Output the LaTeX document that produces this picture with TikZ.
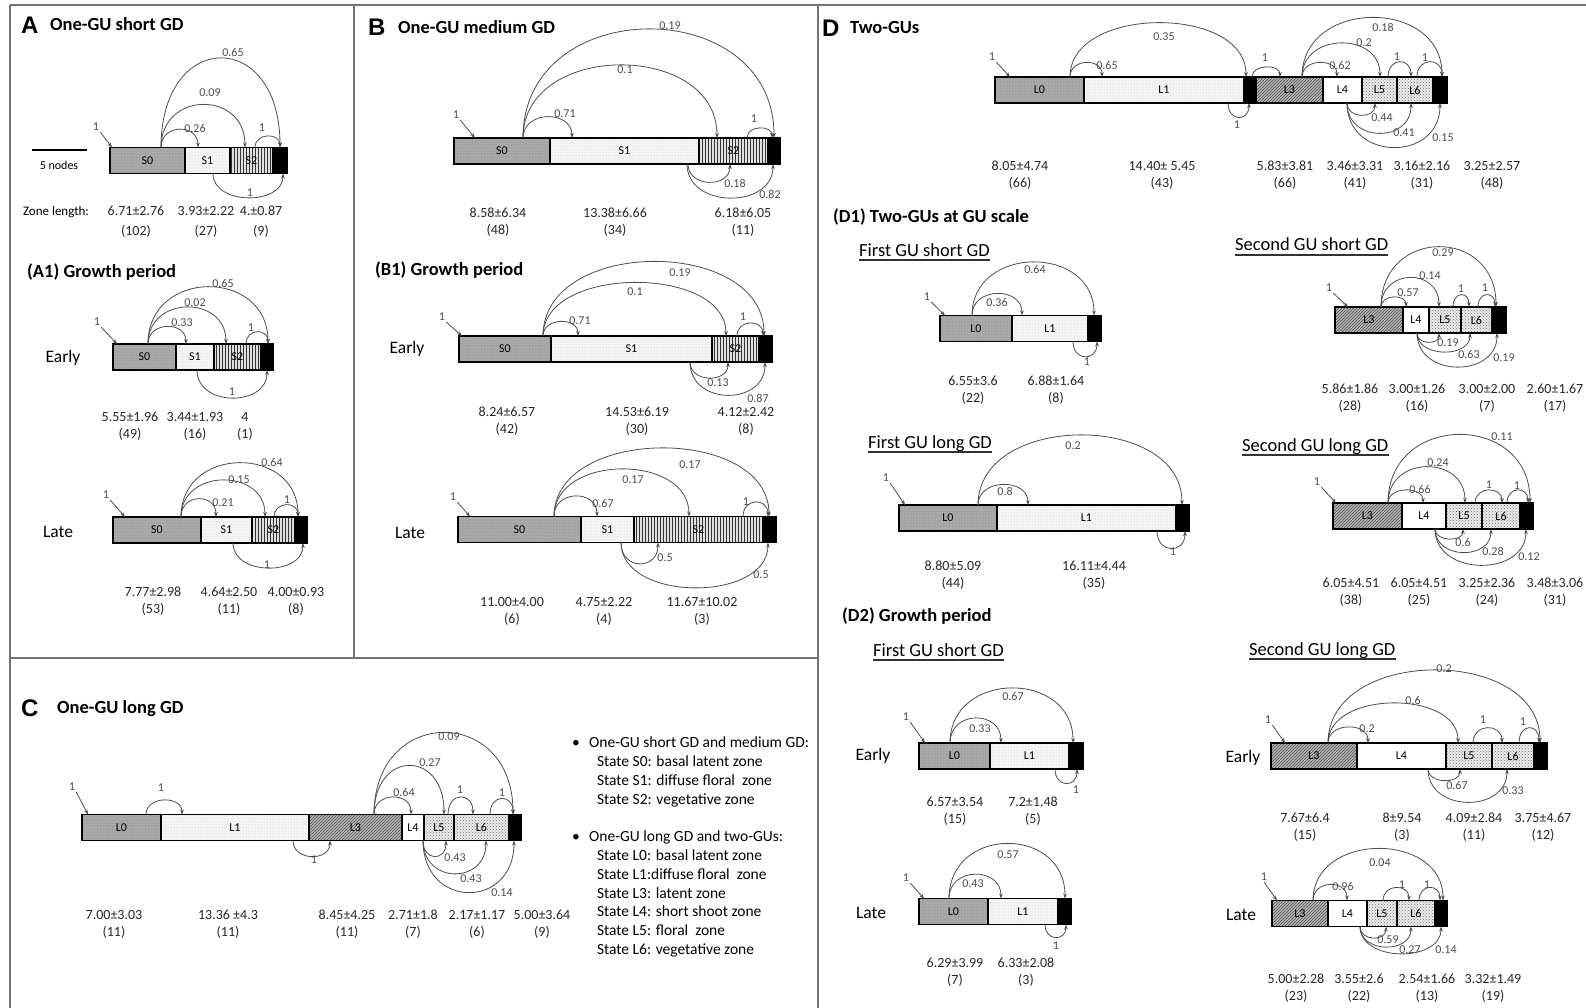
\documentclass[tikz,border=0pt]{standalone}
\usepackage{fontspec}
\setmainfont{Carlito}
\newfontfamily\headfont{Liberation Sans}
\usetikzlibrary{arrows.meta,positioning,patterns}
\newcommand\fs[2]{\fontsize{#1}{#2}\selectfont}

\begin{document}
\begin{tikzpicture}[
  x=1pt, y=-1pt,
  zone/.style={draw=black,line width=1.8pt,minimum height=26pt,inner sep=0pt,outer sep=0pt,font=\fs{12}{14}},
  bas/.style={zone,preaction={fill=black!36},pattern=dots,pattern color=black!16},
  dif/.style={zone,preaction={fill=black!4},pattern=dots,pattern color=black!22},
  veg/.style={zone,preaction={fill=black!12},pattern=vertical lines,pattern color=black!80},
  lat/.style={zone,preaction={fill=black!28},pattern=north east lines,pattern color=black!70},
  sho/.style={zone,fill=white},
  flo/.style={zone,preaction={fill=black!8},pattern=crosshatch dots,pattern color=black!55},
  endz/.style={zone,fill=black},
  hop/.style={draw=black!70,line width=0.8pt,-{Stealth[length=5pt,width=3.6pt]}},
  prob/.style={font=\fs{12}{14},text=black!70,inner sep=1pt},
  val/.style={font=\fs{14}{17},align=center,inner sep=0pt,text=black!85},
  letter/.style={font=\headfont\bfseries\fs{24}{28},inner sep=0pt,anchor=west},
  title/.style={font=\bfseries\fs{18.5}{22},inner sep=0pt,anchor=west},
  sub/.style={font=\fs{18.5}{22},inner sep=0pt,anchor=base west},
  period/.style={font=\fs{17.5}{21},inner sep=0pt},
  legend/.style={font=\fs{15.5}{18.7},align=left,inner sep=0pt},
  frame/.style={draw=black!55,line width=1.2pt},
  uline/.style={draw=black!80,line width=1.2pt}]
\useasboundingbox (0,0) rectangle (1586,1008);

% panel frames
\draw[frame] (10,5) -- (1586,5);
\draw[frame] (10,5) -- (10,1008);
\draw[frame] (354,5) -- (354,658);
\draw[frame] (10,658) -- (818,658);
\draw[frame] (818,5) -- (818,1008);

% ---------------- A: one-GU short GD
\node[letter] (A) at (21,25) {A};
\node[title] (A-t) at (50,24) {One-GU short GD};
\node[font=\fs{12}{14},inner sep=0pt] (a-sc) at (59,165) {5 nodes};
\draw[line width=1.5pt] (32,150) -- (87,150);
\node[bas,minimum width=75pt,anchor=west] (a0) at (110,160.5) {S0};
\node[dif,minimum width=45pt,right=0pt of a0] (a1) {S1};
\node[veg,minimum width=43pt,right=0pt of a1] (a2) {S2};
\node[endz,minimum width=14pt,right=0pt of a2] (aT) {};
\node[prob] (a-in) at (96,127) {1};
\draw[hop] (a-in.south east) -- ([xshift=2pt]a0.north west);
\draw[hop] ([xshift=51pt]a0.north west) .. controls +(0,-24) and +(0,-24) .. ([xshift=13pt]a1.north west);
\draw[hop] ([xshift=51pt]a0.north west) .. controls +(0,-57) and +(0,-57) .. ([xshift=15pt]a2.north west);
\draw[hop] ([xshift=51pt]a0.north west) .. controls +(0,-119) and +(0,-119) .. ([xshift=7pt]aT.north west);
\draw[hop] ([xshift=25pt]a2.north west) .. controls +(0,-15) and +(0,-15) .. ([xshift=7pt]aT.north west);
\draw[hop] ([xshift=28pt]a1.south west) .. controls +(0,32) and +(0,32) .. ([xshift=10pt]aT.south west);
\node[prob] (a-p1) at (195,128) {0.26};
\node[prob] (a-p2) at (210,93) {0.09};
\node[prob] (a-p3) at (233,52) {0.65};
\node[prob] (a-p4) at (262,128) {1};
\node[prob] (a-p5) at (250,193) {1};
\node[font=\fs{13}{15},inner sep=0pt] (a-zl) at (56,212) {Zone length:};
\node[val,font=\fs{14}{20}] (a-v0) at (136,222) {6.71±2.76\\(102)};
\node[val,font=\fs{14}{20}] (a-v1) at (206,222) {3.93±2.22\\(27)};
\node[val,font=\fs{14}{20}] (a-v2) at (261,222) {4.±0.87\\(9)};

% A1 growth period
\node[title] (A1-t) at (27,272) {(A1) Growth period};
\node[period] (ae-l) at (63,358) {Early};
\node[bas,minimum width=63pt,anchor=west] (ae0) at (113,357) {S0};
\node[dif,minimum width=38pt,right=0pt of ae0] (ae1) {S1};
\node[veg,minimum width=47pt,right=0pt of ae1] (ae2) {S2};
\node[endz,minimum width=12pt,right=0pt of ae2] (aeT) {};
\node[prob] (ae-in) at (97,322) {1};
\draw[hop] (ae-in.south east) -- ([xshift=4pt]ae0.north west);
\draw[hop] ([xshift=35pt]ae0.north west) .. controls +(0,-23) and +(0,-23) .. ([xshift=10pt]ae1.north west);
\draw[hop] ([xshift=35pt]ae0.north west) .. controls +(0,-49) and +(0,-49) .. ([xshift=12pt]ae2.north west);
\draw[hop] ([xshift=35pt]ae0.north west) .. controls +(0,-76) and +(0,-76) .. ([xshift=7pt]aeT.north west);
\draw[hop] ([xshift=32pt]ae2.north west) .. controls +(0,-16) and +(0,-16) .. ([xshift=7pt]aeT.north west);
\draw[hop] ([xshift=21pt]ae1.south west) .. controls +(0,37) and +(0,37) .. ([xshift=6pt]aeT.south west);
\node[prob] (ae-p1) at (182,323) {0.33};
\node[prob] (ae-p2) at (195,303) {0.02};
\node[prob] (ae-p3) at (223,283) {0.65};
\node[prob] (ae-p4) at (251,328) {1};
\node[prob] (ae-p5) at (232,392) {1};
\node[val] (ae-v0) at (130,426) {5.55±1.96\\(49)};
\node[val] (ae-v1) at (195,426) {3.44±1.93\\(16)};
\node[val] (ae-v2) at (245,426) {4\\(1)};

\node[period] (al-l) at (58,532) {Late};
\node[bas,minimum width=88pt,anchor=west] (al0) at (113,530) {S0};
\node[dif,minimum width=51pt,right=0pt of al0] (al1) {S1};
\node[veg,minimum width=43pt,right=0pt of al1] (al2) {S2};
\node[endz,minimum width=12pt,right=0pt of al2] (alT) {};
\node[prob] (al-in) at (106,495) {1};
\draw[hop] (al-in.south east) -- ([xshift=12pt]al0.north west);
\draw[hop] ([xshift=68pt]al0.north west) .. controls +(0,-24) and +(0,-24) .. ([xshift=15pt]al1.north west);
\draw[hop] ([xshift=68pt]al0.north west) .. controls +(0,-49) and +(0,-49) .. ([xshift=13pt]al2.north west);
\draw[hop] ([xshift=68pt]al0.north west) .. controls +(0,-72) and +(0,-72) .. ([xshift=3pt]alT.north west);
\draw[hop] ([xshift=22pt]al2.north west) .. controls +(0,-16) and +(0,-16) .. ([xshift=3pt]alT.north west);
\draw[hop] ([xshift=32pt]al1.south west) .. controls +(0,33) and +(0,33) .. ([xshift=8pt]alT.south west);
\node[prob] (al-p1) at (223,503) {0.21};
\node[prob] (al-p2) at (239,480) {0.15};
\node[prob] (al-p3) at (272,462) {0.64};
\node[prob] (al-p4) at (287,500) {1};
\node[prob] (al-p5) at (267,565) {1};
\node[val] (al-v0) at (153,601) {7.77±2.98\\(53)};
\node[val] (al-v1) at (229,601) {4.64±2.50\\(11)};
\node[val] (al-v2) at (296,601) {4.00±0.93\\(8)};

% ---------------- B: one-GU medium GD
\node[letter] (B) at (368,27) {B};
\node[title] (B-t) at (398,27) {One-GU medium GD};
\node[bas,minimum width=96pt,anchor=west] (b0) at (454,151) {S0};
\node[dif,minimum width=149pt,right=0pt of b0] (b1) {S1};
\node[veg,minimum width=69pt,right=0pt of b1] (b2) {S2};
\node[endz,minimum width=12pt,right=0pt of b2] (bT) {};
\node[prob] (b-in) at (456,115) {1};
\draw[hop] (b-in.south east) -- ([xshift=21pt]b0.north west);
\draw[hop] ([xshift=69pt]b0.north west) .. controls +(0,-28) and +(0,-28) .. ([xshift=22pt]b1.north west);
\draw[hop] ([xshift=69pt]b0.north west) .. controls +(0,-97) and +(0,-97) .. ([xshift=18pt]b2.north west);
\draw[hop] ([xshift=69pt]b0.north west) .. controls +(0,-145) and +(0,-145) .. ([xshift=6pt]bT.north west);
\draw[hop] ([xshift=48pt]b2.north west) .. controls +(0,-13) and +(0,-13) .. ([xshift=4pt]bT.north west);
\draw[hop] ([xshift=138pt]b1.south west) .. controls +(0,24) and +(0,24) .. ([xshift=31pt]b2.south west);
\draw[hop] ([xshift=137pt]b1.south west) .. controls +(0,45) and +(0,45) .. ([xshift=5pt]bT.south west);
\node[prob] (b-p1) at (565,114) {0.71};
\node[prob] (b-p2) at (625,70) {0.1};
\node[prob] (b-p3) at (670,26) {0.19};
\node[prob] (b-p4) at (754,119) {1};
\node[prob] (b-p5) at (735,183) {0.18};
\node[prob] (b-p6) at (770,194) {0.82};
\node[val] (b-v0) at (498,222) {8.58±6.34\\(48)};
\node[val] (b-v1) at (615,222) {13.38±6.66\\(34)};
\node[val] (b-v2) at (743,222) {6.18±6.05\\(11)};

% B1 growth period
\node[title] (B1-t) at (375,270) {(B1) Growth period};
\node[period] (be-l) at (407,349) {Early};
\node[bas,minimum width=92pt,anchor=west] (be0) at (459,349) {S0};
\node[dif,minimum width=161pt,right=0pt of be0] (be1) {S1};
\node[veg,minimum width=47pt,right=0pt of be1] (be2) {S2};
\node[endz,minimum width=13pt,right=0pt of be2] (beT) {};
\node[prob] (be-in) at (442,317) {1};
\draw[hop] (be-in.south east) -- ([xshift=3pt]be0.north west);
\draw[hop] ([xshift=84pt]be0.north west) .. controls +(0,-19) and +(0,-19) .. ([xshift=27pt]be1.north west);
\draw[hop] ([xshift=84pt]be0.north west) .. controls +(0,-71) and +(0,-71) .. ([xshift=14pt]be2.north west);
\draw[hop] ([xshift=84pt]be0.north west) .. controls +(0,-99) and +(0,-99) .. ([xshift=5pt]beT.north west);
\draw[hop] ([xshift=25pt]be2.north west) .. controls +(0,-17) and +(0,-17) .. ([xshift=4pt]beT.north west);
\draw[hop] ([xshift=139pt]be1.south west) .. controls +(0,21) and +(0,21) .. ([xshift=16pt]be2.south west);
\draw[hop] ([xshift=139pt]be1.south west) .. controls +(0,44) and +(0,44) .. ([xshift=6pt]beT.south west);
\node[prob] (be-p1) at (580,321) {0.71};
\node[prob] (be-p2) at (635,292) {0.1};
\node[prob] (be-p3) at (680,273) {0.19};
\node[prob] (be-p4) at (743,317) {1};
\node[prob] (be-p5) at (718,383) {0.13};
\node[prob] (be-p6) at (758,398) {0.87};
\node[val] (be-v0) at (507,421) {8.24±6.57\\(42)};
\node[val] (be-v1) at (637,421) {14.53±6.19\\(30)};
\node[val] (be-v2) at (746,421) {4.12±2.42\\(8)};

\node[period] (bl-l) at (410,533) {Late};
\node[bas,minimum width=123pt,anchor=west] (bl0) at (458,529.5) {S0};
\node[dif,minimum width=53pt,right=0pt of bl0] (bl1) {S1};
\node[veg,minimum width=129pt,right=0pt of bl1] (bl2) {S2};
\node[endz,minimum width=13pt,right=0pt of bl2] (blT) {};
\node[prob] (bl-in) at (453,497) {1};
\draw[hop] (bl-in.south east) -- ([xshift=12pt]bl0.north west);
\draw[hop] ([xshift=96pt]bl0.north west) .. controls +(0,-27) and +(0,-27) .. ([xshift=16pt]bl1.north west);
\draw[hop] ([xshift=96pt]bl0.north west) .. controls +(0,-63) and +(0,-63) .. ([xshift=55pt]bl2.north west);
\draw[hop] ([xshift=96pt]bl0.north west) .. controls +(0,-91) and +(0,-91) .. ([xshift=6pt]blT.north west);
\draw[hop] ([xshift=109pt]bl2.north west) .. controls +(0,-19) and +(0,-19) .. ([xshift=5pt]blT.north west);
\draw[hop] ([xshift=40pt]bl1.south west) .. controls +(0,28) and +(0,28) .. ([xshift=24pt]bl2.south west);
\draw[hop] ([xshift=40pt]bl1.south west) .. controls +(0,60) and +(0,60) .. ([xshift=5pt]blT.south west);
\node[prob] (bl-p1) at (603,503) {0.67};
\node[prob] (bl-p2) at (633,480) {0.17};
\node[prob] (bl-p3) at (690,465) {0.17};
\node[prob] (bl-p4) at (746,502) {1};
\node[prob] (bl-p5) at (665,558) {0.5};
\node[prob] (bl-p6) at (761,575) {0.5};
\node[val] (bl-v0) at (512,611) {11.00±4.00\\(6)};
\node[val] (bl-v1) at (604,611) {4.75±2.22\\(4)};
\node[val] (bl-v2) at (702,611) {11.67±10.02\\(3)};

% ---------------- C: one-GU long GD
\node[letter] (C) at (21,708) {C};
\node[title] (C-t) at (57,709) {One-GU long GD};
\node[bas,minimum width=79pt,anchor=west] (c0) at (82,827.5) {L0};
\node[dif,minimum width=148pt,right=0pt of c0] (c1) {L1};
\node[lat,minimum width=93pt,right=0pt of c1] (c3) {L3};
\node[sho,minimum width=22pt,right=0pt of c3] (c4) {L4};
\node[flo,minimum width=30pt,right=0pt of c4] (c5) {L5};
\node[flo,minimum width=55pt,right=0pt of c5] (c6) {L6};
\node[endz,minimum width=12pt,right=0pt of c6] (cT) {};
\node[prob] (c-in) at (72,787) {1};
\draw[hop] (c-in.south east) -- ([xshift=6pt]c0.north west);
\draw[hop] ([xshift=64pt]c0.north west) .. controls +(0,-19) and +(0,-19) .. ([xshift=21pt]c1.north west);
\draw[hop] ([xshift=132pt]c1.south west) .. controls +(0,21) and +(0,21) .. ([xshift=21pt]c3.south west);
\draw[hop] ([xshift=65pt]c3.north west) .. controls +(0,-23) and +(0,-23) .. ([xshift=9pt]c4.north west);
\draw[hop] ([xshift=65pt]c3.north west) .. controls +(0,-65) and +(0,-65) .. ([xshift=20pt]c5.north west);
\draw[hop] ([xshift=65pt]c3.north west) .. controls +(0,-109) and +(0,-109) .. ([xshift=4pt]cT.north west);
\draw[hop] ([xshift=24pt]c5.north west) .. controls +(0,-23) and +(0,-23) .. ([xshift=19pt]c6.north west);
\draw[hop] ([xshift=36pt]c6.north west) .. controls +(0,-21) and +(0,-21) .. ([xshift=4pt]cT.north west);
\draw[hop] ([xshift=21pt]c4.south west) .. controls +(0,21) and +(0,21) .. ([xshift=22pt]c5.south west);
\draw[hop] ([xshift=21pt]c4.south west) .. controls +(0,44) and +(0,44) .. ([xshift=32pt]c6.south west);
\draw[hop] ([xshift=21pt]c4.south west) .. controls +(0,69) and +(0,69) .. ([xshift=5pt]cT.south west);
\node[prob] (c-p1) at (161,788) {1};
\node[prob] (c-p2) at (314,860) {1};
\node[prob] (c-p3) at (404,792) {0.64};
\node[prob] (c-p4) at (430,763) {0.27};
\node[prob] (c-p5) at (449,737) {0.09};
\node[prob] (c-p6) at (460,790) {1};
\node[prob] (c-p7) at (502,793) {1};
\node[prob] (c-p8) at (455,858) {0.43};
\node[prob] (c-p9) at (471,879) {0.43};
\node[prob] (c-p10) at (502,893) {0.14};
\node[val] (c-v0) at (114,924) {7.00±3.03\\(11)};
\node[val] (c-v1) at (228,924) {13.36 ±4.3\\(11)};
\node[val] (c-v2) at (347,924) {8.45±4.25\\(11)};
\node[val] (c-v3) at (413,924) {2.71±1.8\\(7)};
\node[val] (c-v4) at (477,924) {2.17±1.17\\(6)};
\node[val] (c-v5) at (542,924) {5.00±3.64\\(9)};

% legend
\node[legend,anchor=north west] (leg-s) at (572,737) {•\hspace{0.6em}One-GU short GD and medium GD:\\
  \hspace*{1.6em}State S0: basal latent zone\\
  \hspace*{1.6em}State S1: diffuse floral\ \ zone\\
  \hspace*{1.6em}State S2: vegetative zone};
\node[legend,anchor=north west] (leg-l) at (572,831) {•\hspace{0.6em}One-GU long GD and two-GUs:\\
  \hspace*{1.6em}State L0: basal latent zone\\
  \hspace*{1.6em}State L1:diffuse floral\ \ zone\\
  \hspace*{1.6em}State L3: latent zone\\
  \hspace*{1.6em}State L4: short shoot zone\\
  \hspace*{1.6em}State L5: floral\ \ zone\\
  \hspace*{1.6em}State L6: vegetative zone};

% ---------------- D: two-GUs
\node[letter] (D) at (822,28) {D};
\node[title] (D-t) at (850,28) {Two-GUs};
\node[bas,minimum width=89pt,anchor=west] (d0) at (995,90) {L0};
\node[dif,minimum width=160pt,right=0pt of d0] (d1) {L1};
\node[endz,minimum width=12pt,right=0pt of d1] (dT1) {};
\node[lat,minimum width=67pt,right=0pt of dT1] (d3) {L3};
\node[sho,minimum width=39pt,right=0pt of d3] (d4) {L4};
\node[flo,minimum width=35pt,right=0pt of d4] (d5) {L5};
\node[flo,minimum width=36pt,right=0pt of d5] (d6) {L6};
\node[endz,minimum width=14pt,right=0pt of d6] (dT2) {};
\node[prob] (d-in) at (992,57) {1};
\draw[hop] (d-in.south east) -- ([xshift=15pt]d0.north west);
\draw[hop] ([xshift=75pt]d0.north west) .. controls +(0,-19) and +(0,-19) .. ([xshift=18pt]d1.north west);
\draw[hop] ([xshift=75pt]d0.north west) .. controls +(0,-72) and +(0,-72) .. ([xshift=2pt]dT1.north west);
\draw[hop] ([xshift=8pt]dT1.north west) .. controls +(0,-13) and +(0,-13) .. ([xshift=24pt]d3.north west);
\draw[hop] ([xshift=144pt]d1.south west) .. controls +(0,19) and +(0,19) .. ([xshift=5pt]dT1.south west);
\draw[hop] ([xshift=46pt]d3.north west) .. controls +(0,-19) and +(0,-19) .. ([xshift=14pt]d4.north west);
\draw[hop] ([xshift=46pt]d3.north west) .. controls +(0,-45) and +(0,-45) .. ([xshift=18pt]d5.north west);
\draw[hop] ([xshift=46pt]d3.north west) .. controls +(0,-79) and +(0,-79) .. ([xshift=9pt]dT2.north west);
\draw[hop] ([xshift=26pt]d5.north west) .. controls +(0,-20) and +(0,-20) .. ([xshift=14pt]d6.north west);
\draw[hop] ([xshift=20pt]d6.north west) .. controls +(0,-20) and +(0,-20) .. ([xshift=9pt]dT2.north west);
\draw[hop] ([xshift=24pt]d4.south west) .. controls +(0,16) and +(0,16) .. ([xshift=13pt]d5.south west);
\draw[hop] ([xshift=24pt]d4.south west) .. controls +(0,40) and +(0,40) .. ([xshift=14pt]d6.south west);
\draw[hop] ([xshift=24pt]d4.south west) .. controls +(0,59) and +(0,59) .. ([xshift=7pt]dT2.south west);
\node[prob] (d-p1) at (1107,65) {0.65};
\node[prob] (d-p2) at (1164,37) {0.35};
\node[prob] (d-p3) at (1265,58) {1};
\node[prob] (d-p4) at (1237,125) {1};
\node[prob] (d-p5) at (1340,65) {0.62};
\node[prob] (d-p6) at (1364,43) {0.2};
\node[prob] (d-p7) at (1383,27) {0.18};
\node[prob] (d-p8) at (1397,57) {1};
\node[prob] (d-p9) at (1425,58) {1};
\node[prob] (d-p10) at (1382,118) {0.44};
\node[prob] (d-p11) at (1404,133) {0.41};
\node[prob] (d-p12) at (1443,138) {0.15};
\node[val] (d-v0) at (1020,175) {8.05±4.74\\(66)};
\node[val] (d-v1) at (1162,175) {14.40± 5.45\\(43)};
\node[val] (d-v2) at (1285,175) {5.83±3.81\\(66)};
\node[val] (d-v3) at (1355,175) {3.46±3.31\\(41)};
\node[val] (d-v4) at (1422,175) {3.16±2.16\\(31)};
\node[val] (d-v5) at (1492,175) {3.25±2.57\\(48)};

% D1 two-GUs at GU scale
\node[title] (D1-t) at (833,217) {(D1) Two-GUs at GU scale};
\node[sub] (fs-t) at (859,256) {First GU short GD};
\draw[uline] ([yshift=-4pt]fs-t.base west) -- ([yshift=-4pt]fs-t.base east);
\node[bas,minimum width=72pt,anchor=west] (fs0) at (940,328.5) {L0};
\node[dif,minimum width=76pt,right=0pt of fs0] (fs1) {L1};
\node[endz,minimum width=13pt,right=0pt of fs1] (fsT) {};
\node[prob] (fs-in) at (927,297) {1};
\draw[hop] (fs-in.south east) -- ([xshift=5pt]fs0.north west);
\draw[hop] ([xshift=32pt]fs0.north west) .. controls +(0,-29) and +(0,-29) .. ([xshift=10pt]fs1.north west);
\draw[hop] ([xshift=32pt]fs0.north west) .. controls +(0,-71) and +(0,-71) .. ([xshift=6pt]fsT.north west);
\draw[hop] ([xshift=61pt]fs1.south west) .. controls +(0,20) and +(0,20) .. ([xshift=9pt]fsT.south west);
\node[prob] (fs-p1) at (997,302) {0.36};
\node[prob] (fs-p2) at (1035,269) {0.64};
\node[prob] (fs-p3) at (1087,362) {1};
\node[val] (fs-v0) at (973,390) {6.55±3.6\\(22)};
\node[val] (fs-v1) at (1056,390) {6.88±1.64\\(8)};

\node[sub] (fl-t) at (868,448) {First GU long GD};
\draw[uline] ([yshift=-4pt]fl-t.base west) -- ([yshift=-4pt]fl-t.base east);
\node[bas,minimum width=98pt,anchor=west] (fl0) at (899,518) {L0};
\node[dif,minimum width=179pt,right=0pt of fl0] (fl1) {L1};
\node[endz,minimum width=13pt,right=0pt of fl1] (flT) {};
\node[prob] (fl-in) at (886,478) {1};
\draw[hop] (fl-in.south east) -- ([xshift=6pt]fl0.north west);
\draw[hop] ([xshift=79pt]fl0.north west) .. controls +(0,-27) and +(0,-27) .. ([xshift=31pt]fl1.north west);
\draw[hop] ([xshift=79pt]fl0.north west) .. controls +(0,-93) and +(0,-93) .. ([xshift=6pt]flT.north west);
\draw[hop] ([xshift=160pt]fl1.south west) .. controls +(0,23) and +(0,23) .. ([xshift=9pt]flT.south west);
\node[prob] (fl-p1) at (1005,491) {0.8};
\node[prob] (fl-p2) at (1073,446) {0.2};
\node[prob] (fl-p3) at (1173,552) {1};
\node[val] (fl-v0) at (953,575) {8.80±5.09\\(44)};
\node[val] (fl-v1) at (1094,575) {16.11±4.44\\(35)};

\node[sub] (ss-t) at (1235,251) {Second GU short GD};
\draw[uline] ([yshift=-4pt]ss-t.base west) -- ([yshift=-4pt]ss-t.base east);
\node[lat,minimum width=68pt,anchor=west] (ss3) at (1335,320) {L3};
\node[sho,minimum width=26pt,right=0pt of ss3] (ss4) {L4};
\node[flo,minimum width=32pt,right=0pt of ss4] (ss5) {L5};
\node[flo,minimum width=31pt,right=0pt of ss5] (ss6) {L6};
\node[endz,minimum width=14pt,right=0pt of ss6] (ssT) {};
\node[prob] (ss-in) at (1329,288) {1};
\draw[hop] (ss-in.south east) -- ([xshift=13pt]ss3.north west);
\draw[hop] ([xshift=46pt]ss3.north west) .. controls +(0,-13) and +(0,-13) .. ([xshift=3pt]ss4.north west);
\draw[hop] ([xshift=46pt]ss3.north west) .. controls +(0,-39) and +(0,-39) .. ([xshift=10pt]ss5.north west);
\draw[hop] ([xshift=46pt]ss3.north west) .. controls +(0,-80) and +(0,-80) .. ([xshift=4pt]ssT.north west);
\draw[hop] ([xshift=24pt]ss5.north west) .. controls +(0,-16) and +(0,-16) .. ([xshift=8pt]ss6.north west);
\draw[hop] ([xshift=17pt]ss6.north west) .. controls +(0,-16) and +(0,-16) .. ([xshift=3pt]ssT.north west);
\draw[hop] ([xshift=14pt]ss4.south west) .. controls +(0,12) and +(0,12) .. ([xshift=10pt]ss5.south west);
\draw[hop] ([xshift=14pt]ss4.south west) .. controls +(0,25) and +(0,25) .. ([xshift=9pt]ss6.south west);
\draw[hop] ([xshift=14pt]ss4.south west) .. controls +(0,45) and +(0,45) .. ([xshift=5pt]ssT.south west);
\node[prob] (ss-p1) at (1408,293) {0.57};
\node[prob] (ss-p2) at (1430,276) {0.14};
\node[prob] (ss-p3) at (1443,253) {0.29};
\node[prob] (ss-p4) at (1461,289) {1};
\node[prob] (ss-p5) at (1485,288) {1};
\node[prob] (ss-p6) at (1448,343) {0.19};
\node[prob] (ss-p7) at (1469,354) {0.63};
\node[prob] (ss-p8) at (1504,358) {0.19};
\node[val] (ss-v0) at (1350,398) {5.86±1.86\\(28)};
\node[val] (ss-v1) at (1417,398) {3.00±1.26\\(16)};
\node[val] (ss-v2) at (1487,398) {3.00±2.00\\(7)};
\node[val] (ss-v3) at (1555,398) {2.60±1.67\\(17)};

\node[sub] (sl-t) at (1242,451) {Second GU long GD};
\draw[uline] ([yshift=-4pt]sl-t.base west) -- ([yshift=-4pt]sl-t.base east);
\node[lat,minimum width=69pt,anchor=west] (sl3) at (1333,516) {L3};
\node[sho,minimum width=44pt,right=0pt of sl3] (sl4) {L4};
\node[flo,minimum width=36pt,right=0pt of sl4] (sl5) {L5};
\node[flo,minimum width=38pt,right=0pt of sl5] (sl6) {L6};
\node[endz,minimum width=13pt,right=0pt of sl6] (slT) {};
\node[prob] (sl-in) at (1317,482) {1};
\draw[hop] (sl-in.south east) -- ([xshift=3pt]sl3.north west);
\draw[hop] ([xshift=55pt]sl3.north west) .. controls +(0,-17) and +(0,-17) .. ([xshift=21pt]sl4.north west);
\draw[hop] ([xshift=55pt]sl3.north west) .. controls +(0,-48) and +(0,-48) .. ([xshift=19pt]sl5.north west);
\draw[hop] ([xshift=55pt]sl3.north west) .. controls +(0,-91) and +(0,-91) .. ([xshift=10pt]slT.north west);
\draw[hop] ([xshift=29pt]sl5.north west) .. controls +(0,-17) and +(0,-17) .. ([xshift=20pt]sl6.north west);
\draw[hop] ([xshift=25pt]sl6.north west) .. controls +(0,-17) and +(0,-17) .. ([xshift=8pt]slT.north west);
\draw[hop] ([xshift=33pt]sl4.south west) .. controls +(0,13) and +(0,13) .. ([xshift=17pt]sl5.south west);
\draw[hop] ([xshift=33pt]sl4.south west) .. controls +(0,31) and +(0,31) .. ([xshift=9pt]sl6.south west);
\draw[hop] ([xshift=33pt]sl4.south west) .. controls +(0,48) and +(0,48) .. ([xshift=6pt]slT.south west);
\node[prob] (sl-p1) at (1420,489) {0.66};
\node[prob] (sl-p2) at (1438,463) {0.24};
\node[prob] (sl-p3) at (1502,437) {0.11};
\node[prob] (sl-p4) at (1489,485) {1};
\node[prob] (sl-p5) at (1517,486) {1};
\node[prob] (sl-p6) at (1463,542) {0.6};
\node[prob] (sl-p7) at (1493,551) {0.28};
\node[prob] (sl-p8) at (1529,557) {0.12};
\node[val] (sl-v0) at (1351,592) {6.05±4.51\\(38)};
\node[val] (sl-v1) at (1419,592) {6.05±4.51\\(25)};
\node[val] (sl-v2) at (1487,592) {3.25±2.36\\(24)};
\node[val] (sl-v3) at (1555,592) {3.48±3.06\\(31)};

% D2 growth period
\node[title] (D2-t) at (842,616) {(D2) Growth period};
\node[sub] (fe-t) at (873,656) {First GU short GD};
\draw[uline] ([yshift=-4pt]fe-t.base west) -- ([yshift=-4pt]fe-t.base east);
\node[period] (fe-l) at (873,756) {Early};
\node[bas,minimum width=71pt,anchor=west] (fe0) at (919,756) {L0};
\node[dif,minimum width=79pt,right=0pt of fe0] (fe1) {L1};
\node[endz,minimum width=14pt,right=0pt of fe1] (feT) {};
\node[prob] (fe-in) at (906,717) {1};
\draw[hop] (fe-in.south east) -- ([xshift=6pt]fe0.north west);
\draw[hop] ([xshift=31pt]fe0.north west) .. controls +(0,-33) and +(0,-33) .. ([xshift=11pt]fe1.north west);
\draw[hop] ([xshift=31pt]fe0.north west) .. controls +(0,-73) and +(0,-73) .. ([xshift=4pt]feT.north west);
\draw[hop] ([xshift=65pt]fe1.south west) .. controls +(0,19) and +(0,19) .. ([xshift=8pt]feT.south west);
\node[prob] (fe-p1) at (980,729) {0.33};
\node[prob] (fe-p2) at (1013,696) {0.67};
\node[prob] (fe-p3) at (1076,790) {1};
\node[val] (fe-v0) at (955,811) {6.57±3.54\\(15)};
\node[val] (fe-v1) at (1033,811) {7.2±1.48\\(5)};

\node[period] (fa-l) at (871,913) {Late};
\node[bas,minimum width=69pt,anchor=west] (fa0) at (919,911.5) {L0};
\node[dif,minimum width=70pt,right=0pt of fa0] (fa1) {L1};
\node[endz,minimum width=13pt,right=0pt of fa1] (faT) {};
\node[prob] (fa-in) at (906,878) {1};
\draw[hop] (fa-in.south east) -- ([xshift=5pt]fa0.north west);
\draw[hop] ([xshift=30pt]fa0.north west) .. controls +(0,-32) and +(0,-32) .. ([xshift=13pt]fa1.north west);
\draw[hop] ([xshift=30pt]fa0.north west) .. controls +(0,-73) and +(0,-73) .. ([xshift=7pt]faT.north west);
\draw[hop] ([xshift=57pt]fa1.south west) .. controls +(0,17) and +(0,17) .. ([xshift=8pt]faT.south west);
\node[prob] (fa-p1) at (973,884) {0.43};
\node[prob] (fa-p2) at (1008,855) {0.57};
\node[prob] (fa-p3) at (1056,946) {1};
\node[val] (fa-v0) at (955,972) {6.29±3.99\\(7)};
\node[val] (fa-v1) at (1026,972) {6.33±2.08\\(3)};

\node[sub] (se-t) at (1249,655) {Second GU long GD};
\draw[uline] ([yshift=-4pt]se-t.base west) -- ([yshift=-4pt]se-t.base east);
\node[period] (se-l) at (1243,758) {Early};
\node[lat,minimum width=86pt,anchor=west] (se3) at (1271,756) {L3};
\node[sho,minimum width=89pt,right=0pt of se3] (se4) {L4};
\node[flo,minimum width=46pt,right=0pt of se4] (se5) {L5};
\node[flo,minimum width=42pt,right=0pt of se5] (se6) {L6};
\node[endz,minimum width=13pt,right=0pt of se6] (seT) {};
\node[prob] (se-in) at (1268,720) {1};
\draw[hop] (se-in.south east) -- ([xshift=14pt]se3.north west);
\draw[hop] ([xshift=57pt]se3.north west) .. controls +(0,-21) and +(0,-21) .. ([xshift=11pt]se4.north west);
\draw[hop] ([xshift=57pt]se3.north west) .. controls +(0,-53) and +(0,-53) .. ([xshift=12pt]se5.north west);
\draw[hop] ([xshift=57pt]se3.north west) .. controls +(0,-97) and +(0,-97) .. ([xshift=6pt]seT.north west);
\draw[hop] ([xshift=27pt]se5.north west) .. controls +(0,-20) and +(0,-20) .. ([xshift=10pt]se6.north west);
\draw[hop] ([xshift=27pt]se6.north west) .. controls +(0,-20) and +(0,-20) .. ([xshift=5pt]seT.north west);
\draw[hop] ([xshift=71pt]se4.south west) .. controls +(0,15) and +(0,15) .. ([xshift=14pt]se5.south west);
\draw[hop] ([xshift=71pt]se4.south west) .. controls +(0,44) and +(0,44) .. ([xshift=15pt]se6.south west);
\node[prob] (se-p1) at (1367,729) {0.2};
\node[prob] (se-p2) at (1413,700) {0.6};
\node[prob] (se-p3) at (1444,669) {0.2};
\node[prob] (se-p4) at (1483,720) {1};
\node[prob] (se-p5) at (1523,722) {1};
\node[prob] (se-p6) at (1457,785) {0.67};
\node[prob] (se-p7) at (1513,791) {0.33};
\node[val] (se-v0) at (1305,827) {7.67±6.4\\(15)};
\node[val] (se-v1) at (1402,827) {8±9.54\\(3)};
\node[val] (se-v2) at (1474,827) {4.09±2.84\\(11)};
\node[val] (se-v3) at (1543,827) {3.75±4.67\\(12)};

\node[period] (sa-l) at (1241,915) {Late};
\node[lat,minimum width=56pt,anchor=west] (sa3) at (1272,913.5) {L3};
\node[sho,minimum width=39pt,right=0pt of sa3] (sa4) {L4};
\node[flo,minimum width=30pt,right=0pt of sa4] (sa5) {L5};
\node[flo,minimum width=38pt,right=0pt of sa5] (sa6) {L6};
\node[endz,minimum width=12pt,right=0pt of sa6] (saT) {};
\node[prob] (sa-in) at (1264,877) {1};
\draw[hop] (sa-in.south) -- ([xshift=5pt]sa3.north west);
\draw[hop] ([xshift=41pt]sa3.north west) .. controls +(0,-21) and +(0,-21) .. ([xshift=19pt]sa4.north west);
\draw[hop] ([xshift=41pt]sa3.north west) .. controls +(0,-69) and +(0,-69) .. ([xshift=8pt]saT.north west);
\draw[hop] ([xshift=16pt]sa5.north west) .. controls +(0,-17) and +(0,-17) .. ([xshift=12pt]sa6.north west);
\draw[hop] ([xshift=22pt]sa6.north west) .. controls +(0,-17) and +(0,-17) .. ([xshift=5pt]saT.north west);
\draw[hop] ([xshift=32pt]sa4.south west) .. controls +(0,15) and +(0,15) .. ([xshift=19pt]sa5.south west);
\draw[hop] ([xshift=32pt]sa4.south west) .. controls +(0,27) and +(0,27) .. ([xshift=14pt]sa6.south west);
\draw[hop] ([xshift=32pt]sa4.south west) .. controls +(0,36) and +(0,36) .. ([xshift=6pt]saT.south west);
\node[prob] (sa-p1) at (1343,886) {0.96};
\node[prob] (sa-p2) at (1380,863) {0.04};
\node[prob] (sa-p3) at (1402,885) {1};
\node[prob] (sa-p4) at (1427,885) {1};
\node[prob] (sa-p5) at (1388,940) {0.59};
\node[prob] (sa-p6) at (1410,950) {0.27};
\node[prob] (sa-p7) at (1446,950) {0.14};
\node[val] (sa-v0) at (1296,988) {5.00±2.28\\(23)};
\node[val] (sa-v1) at (1359,988) {3.55±2.6\\(22)};
\node[val] (sa-v2) at (1427,988) {2.54±1.66\\(13)};
\node[val] (sa-v3) at (1493,988) {3.32±1.49\\(19)};
\end{tikzpicture}
\end{document}
